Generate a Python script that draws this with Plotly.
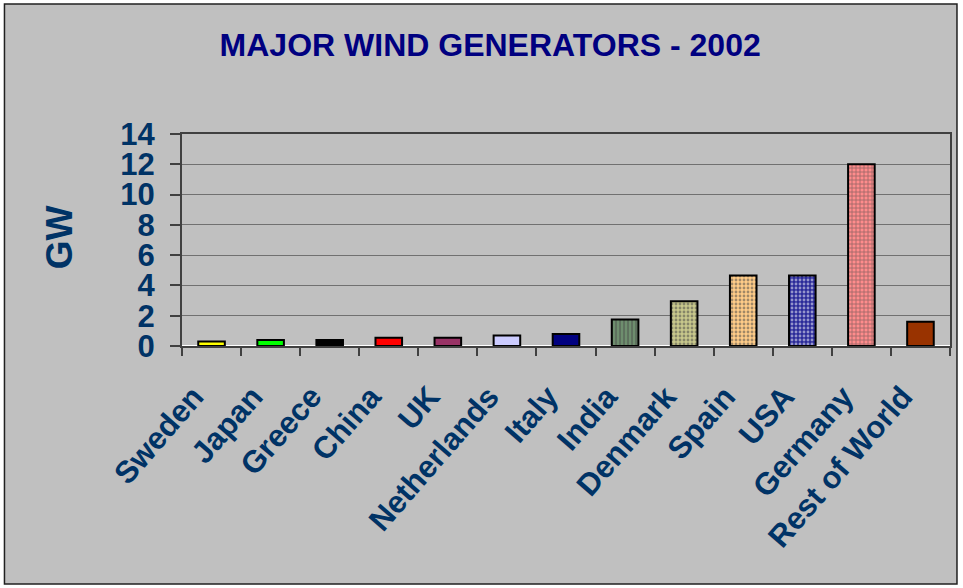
import plotly.graph_objects as go

countries = ['Sweden', 'Japan', 'Greece', 'China', 'UK', 'Netherlands', 'Italy',
             'India', 'Denmark', 'Spain', 'USA', 'Germany', 'Rest of World']
capacity_gw = [0.3, 0.4, 0.4, 0.55, 0.55, 0.7, 0.8, 1.75, 2.95, 4.65, 4.65, 12.0, 1.6]

bar_colors = ['#FFFF00', '#00FF00', '#000000', '#FF0000', '#993366', '#CCCCFF', '#000080',
              '#6E8E6E', '#C8C88C', '#FFCC88', '#2A2A99', '#FF8C8C', '#993300']
pattern_shapes = ['', '', '', '', '', '', '', '|', '.', '.', '.', '+', '']
pattern_fg = ['#000000'] * 7 + ['#55705A', '#A8A868', '#F5BE70', '#FFFFFF', '#FFFFFF', '#000000']

FONT = 'Liberation Sans, Arial, sans-serif'
LABEL_BLUE = '#003366'

fig = go.Figure(go.Bar(
    x=countries,
    y=capacity_gw,
    width=0.45,
    marker=dict(
        color=bar_colors,
        line=dict(color='#000000', width=2),
        pattern=dict(shape=pattern_shapes, fgcolor=pattern_fg, size=4, solidity=0.4),
    ),
))

fig.update_layout(
    width=963, height=588,
    paper_bgcolor='#FFFFFF',
    plot_bgcolor='#FFFFFF',
    margin=dict(l=182, r=11, t=134, b=242),
    showlegend=False,
    title=dict(text='<b>MAJOR WIND GENERATORS - 2002</b>', x=0.509, xanchor='center',
               y=0.923, yanchor='middle', font=dict(family=FONT, size=32, color='#000080')),
    font=dict(family=FONT),
)

fig.update_xaxes(
    tickangle=-49,
    tickson='boundaries',
    ticks='outside', ticklen=8, tickcolor='#404040', tickwidth=2,
    ticklabelstandoff=18, ticklabelshift=-18,
    showline=True, linecolor='#404040', linewidth=2, mirror=True,
    tickfont=dict(family=FONT, size=31, color=LABEL_BLUE, weight='bold'),
)
fig.update_yaxes(
    range=[0, 14], dtick=2,
    ticks='outside', ticklen=10, tickcolor='#404040', tickwidth=2,
    ticklabelstandoff=9,
    showline=True, linecolor='#404040', linewidth=2, mirror=True,
    showgrid=True, gridcolor='#707070', gridwidth=1,
    tickfont=dict(family=FONT, size=31, color=LABEL_BLUE, weight='bold'),
)

fig.add_annotation(text='<b>GW</b>', xref='paper', yref='paper', x=(59 - 182) / 770, y=0.514,
                   xanchor='center', yanchor='middle',
                   textangle=-90, showarrow=False,
                   font=dict(family=FONT, size=37, color=LABEL_BLUE))

# grey chart area with its frame
fig.add_shape(type='rect', xref='paper', yref='paper',
              x0=(4 - 182) / 770, x1=(959 - 182) / 770,
              y0=(346 - 584) / 212, y1=(346 - 4) / 212,
              fillcolor='#C0C0C0',
              line=dict(color='#202020', width=1.5), layer='below')

fig.write_html('out.html', config={'displayModeBar': False},
               post_script="document.body.style.margin='0';")
